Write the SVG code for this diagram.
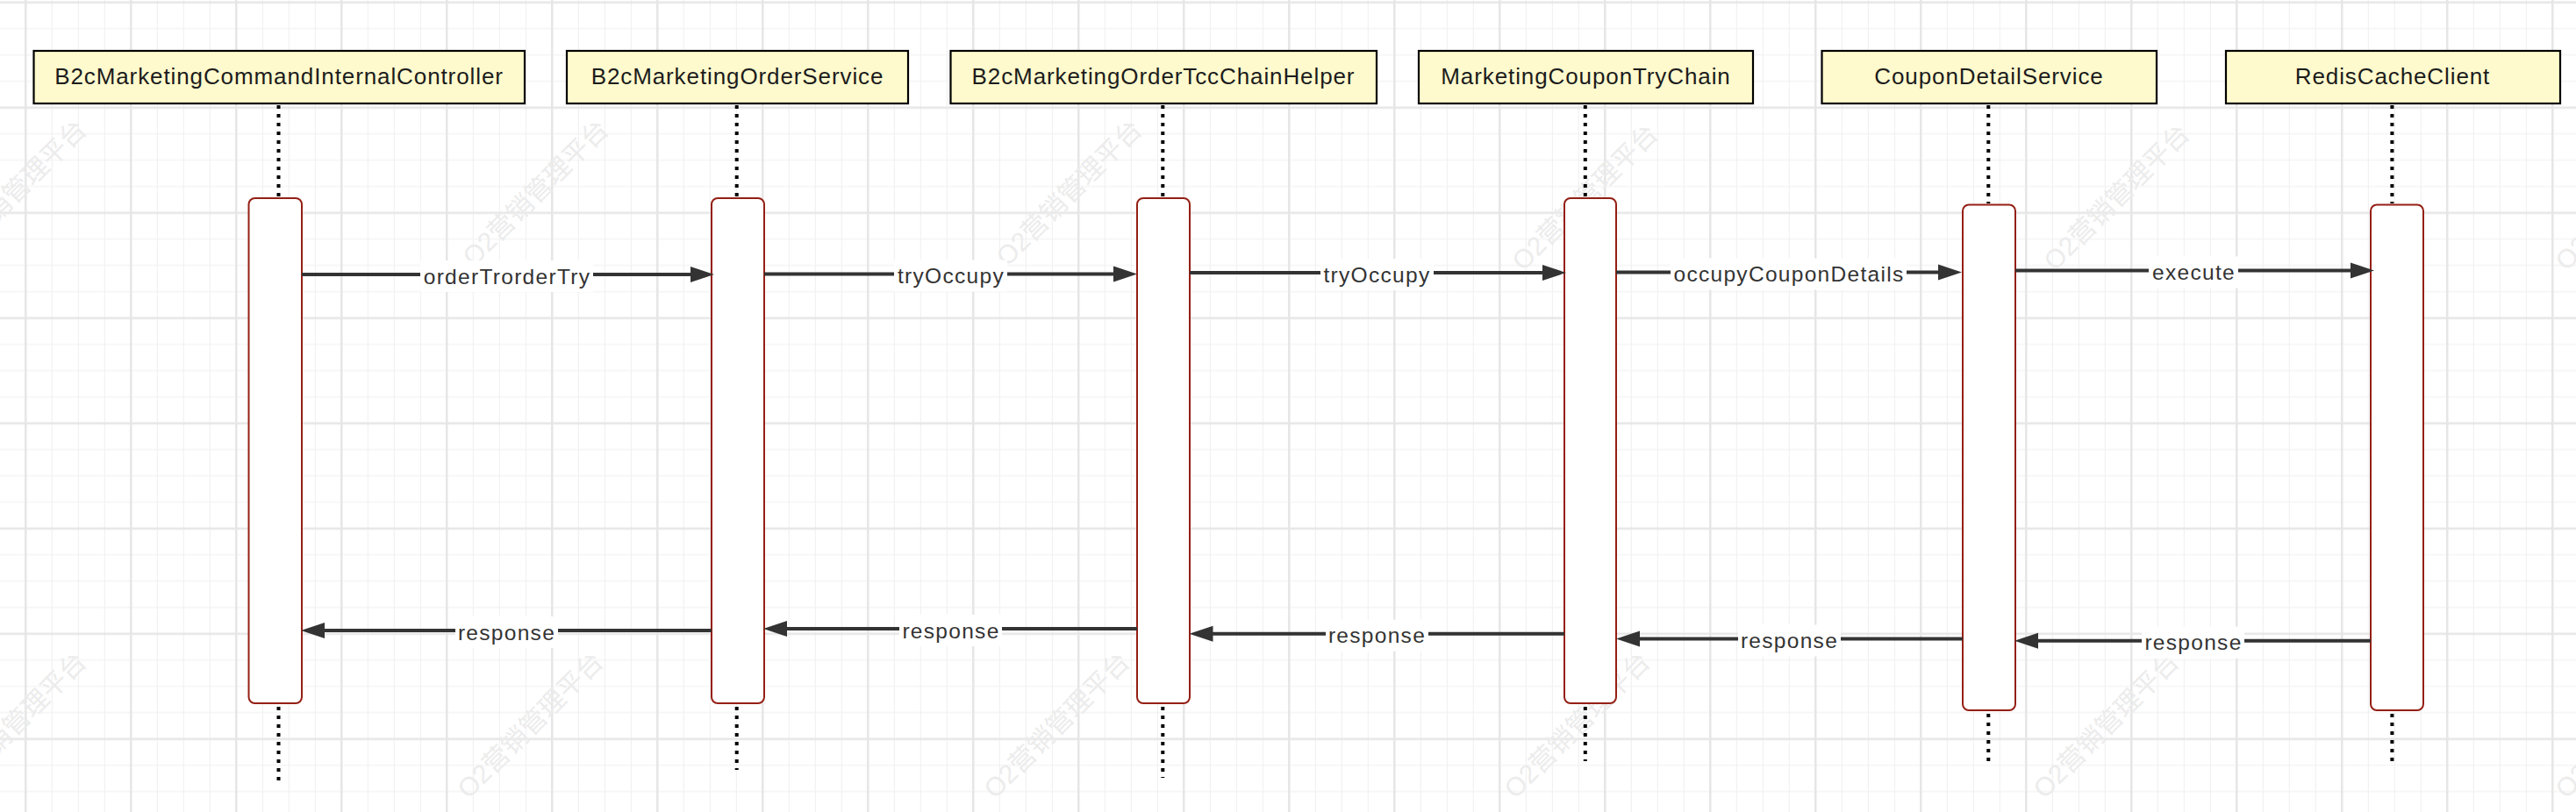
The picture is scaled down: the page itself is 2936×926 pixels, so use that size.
<svg xmlns="http://www.w3.org/2000/svg" width="2936" height="926" viewBox="0 0 2936 926">
<style>
.hdr{fill:#fffacd;stroke:#000;stroke-width:2.2}
.htxt{font-family:"Liberation Sans",Arial,sans-serif;font-size:26px;letter-spacing:0.9px;fill:#1c1c1c;text-anchor:middle}
.act{fill:#fff;stroke:#941f14;stroke-width:2}
.life{stroke:#000;stroke-width:4;stroke-dasharray:4 6;fill:none}
.msg{stroke:#333;stroke-width:4;fill:none}
.lbg{fill:#fff}
.ltxt{font-family:"Liberation Sans",Arial,sans-serif;font-size:24.5px;letter-spacing:1.3px;fill:#333;text-anchor:middle}
.wm{font-family:"Liberation Sans","Noto Sans CJK SC",sans-serif;font-size:30px;fill:#ececec}
</style>
<defs>
<pattern id="grid" patternUnits="userSpaceOnUse" x="28" y="1.5" width="120" height="120">
<rect x="30.8" y="0" width="1" height="120" fill="#efefef"/>
<rect x="60.8" y="0" width="1" height="120" fill="#efefef"/>
<rect x="90.8" y="0" width="1" height="120" fill="#efefef"/>
<rect x="0" y="30.7" width="120" height="1" fill="#efefef"/>
<rect x="0" y="60.7" width="120" height="1" fill="#efefef"/>
<rect x="0" y="90.7" width="120" height="1" fill="#efefef"/>
<rect x="0" y="0" width="2.5" height="120" fill="#e6e6e6"/>
<rect x="0" y="0" width="120" height="2.5" fill="#e6e6e6"/>
</pattern>
<marker id="ah" markerUnits="userSpaceOnUse" markerWidth="30" markerHeight="20" viewBox="0 -10 30 20" refX="1" refY="0" orient="auto">
<path d="M0,-9 L27,0 L0,9 Z" fill="#333"/>
</marker>
</defs>
<rect x="0" y="0" width="2936" height="926" fill="#fff"/>
<rect x="0" y="0" width="2936" height="926" fill="url(#grid)"/>
<g id="watermarks">
<text class="wm" transform="translate(-55,305) rotate(-45)">O2营销管理平台</text>
<text class="wm" transform="translate(540,305) rotate(-45)">O2营销管理平台</text>
<text class="wm" transform="translate(1148,305) rotate(-45)">O2营销管理平台</text>
<text class="wm" transform="translate(1736,310) rotate(-45)">O2营销管理平台</text>
<text class="wm" transform="translate(2342,310) rotate(-45)">O2营销管理平台</text>
<text class="wm" transform="translate(2925,310) rotate(-45)">O2营销管理平台</text>
<text class="wm" transform="translate(-55,912) rotate(-45)">O2营销管理平台</text>
<text class="wm" transform="translate(534,912) rotate(-45)">O2营销管理平台</text>
<text class="wm" transform="translate(1134,912) rotate(-45)">O2营销管理平台</text>
<text class="wm" transform="translate(1727,912) rotate(-45)">O2营销管理平台</text>
<text class="wm" transform="translate(2330,912) rotate(-45)">O2营销管理平台</text>
<text class="wm" transform="translate(2925,912) rotate(-45)">O2营销管理平台</text>
</g>
<g id="node-controller">
<rect class="hdr" x="38.5" y="58" width="559.5" height="60"/>
<text class="htxt" x="318" y="96">B2cMarketingCommandInternalController</text>
<line class="life" x1="317.5" y1="120" x2="317.5" y2="225"/>
<line class="life" x1="317.5" y1="806" x2="317.5" y2="892"/>
<rect class="act" x="283.5" y="226" width="60.5" height="576" rx="7"/>
</g>
<g id="node-orderservice">
<rect class="hdr" x="646" y="58" width="389" height="60"/>
<text class="htxt" x="840.5" y="96">B2cMarketingOrderService</text>
<line class="life" x1="839.7" y1="120" x2="839.7" y2="225"/>
<line class="life" x1="839.7" y1="806" x2="839.7" y2="878"/>
<rect class="act" x="811" y="226" width="60" height="576" rx="7"/>
</g>
<g id="node-tcchelper">
<rect class="hdr" x="1083.5" y="58" width="485.5" height="60"/>
<text class="htxt" x="1326" y="96">B2cMarketingOrderTccChainHelper</text>
<line class="life" x1="1325.3" y1="120" x2="1325.3" y2="225"/>
<line class="life" x1="1325.3" y1="806" x2="1325.3" y2="887"/>
<rect class="act" x="1296" y="226" width="60" height="576" rx="7"/>
</g>
<g id="node-coupontrychain">
<rect class="hdr" x="1617" y="58" width="381" height="60"/>
<text class="htxt" x="1807.5" y="96">MarketingCouponTryChain</text>
<line class="life" x1="1806.8" y1="120" x2="1806.8" y2="225"/>
<line class="life" x1="1806.8" y1="806" x2="1806.8" y2="868"/>
<rect class="act" x="1783" y="226" width="59" height="576" rx="7"/>
</g>
<g id="node-coupondetailservice">
<rect class="hdr" x="2076.5" y="58" width="381.5" height="60"/>
<text class="htxt" x="2267" y="96">CouponDetailService</text>
<line class="life" x1="2266.3" y1="120" x2="2266.3" y2="232"/>
<line class="life" x1="2266.3" y1="814" x2="2266.3" y2="868"/>
<rect class="act" x="2237" y="233.5" width="60" height="576.5" rx="7"/>
</g>
<g id="node-rediscacheclient">
<rect class="hdr" x="2537" y="58" width="381" height="60"/>
<text class="htxt" x="2727" y="96">RedisCacheClient</text>
<line class="life" x1="2726.4" y1="120" x2="2726.4" y2="232"/>
<line class="life" x1="2726.4" y1="814" x2="2726.4" y2="868"/>
<rect class="act" x="2702" y="233.5" width="60" height="576.5" rx="7"/>
</g>
<g id="connectors">
<line class="msg" x1="344" y1="313" x2="788" y2="313" marker-end="url(#ah)"/>
<rect class="lbg" x="479" y="297" width="197" height="36"/>
<text class="ltxt" x="578" y="323.5">orderTrorderTry</text>
<line class="msg" x1="871" y1="312.5" x2="1270" y2="312.5" marker-end="url(#ah)"/>
<rect class="lbg" x="1019" y="296.5" width="129" height="36"/>
<text class="ltxt" x="1084" y="323">tryOccupy</text>
<line class="msg" x1="1356" y1="311" x2="1759" y2="311" marker-end="url(#ah)"/>
<rect class="lbg" x="1505" y="295" width="129" height="36"/>
<text class="ltxt" x="1569.5" y="321.5">tryOccupy</text>
<line class="msg" x1="1842" y1="310.5" x2="2210" y2="310.5" marker-end="url(#ah)"/>
<rect class="lbg" x="1904" y="294.5" width="269" height="36"/>
<text class="ltxt" x="2039" y="321">occupyCouponDetails</text>
<line class="msg" x1="2297" y1="308.5" x2="2680" y2="308.5" marker-end="url(#ah)"/>
<rect class="lbg" x="2449" y="292.5" width="102" height="36"/>
<text class="ltxt" x="2500.5" y="319">execute</text>
<line class="msg" x1="811" y1="719" x2="369" y2="719" marker-end="url(#ah)"/>
<rect class="lbg" x="519" y="703" width="117" height="36"/>
<text class="ltxt" x="577.5" y="729.5">response</text>
<line class="msg" x1="1296" y1="717" x2="896" y2="717" marker-end="url(#ah)"/>
<rect class="lbg" x="1025" y="701" width="117" height="36"/>
<text class="ltxt" x="1084" y="727.5">response</text>
<line class="msg" x1="1783" y1="722.7" x2="1381.5" y2="722.7" marker-end="url(#ah)"/>
<rect class="lbg" x="1511" y="706.7" width="117" height="36"/>
<text class="ltxt" x="1569.5" y="733.2">response</text>
<line class="msg" x1="2237" y1="728.5" x2="1868" y2="728.5" marker-end="url(#ah)"/>
<rect class="lbg" x="1981" y="712.5" width="117" height="36"/>
<text class="ltxt" x="2039.5" y="739">response</text>
<line class="msg" x1="2702" y1="730.7" x2="2322" y2="730.7" marker-end="url(#ah)"/>
<rect class="lbg" x="2441" y="714.7" width="117" height="36"/>
<text class="ltxt" x="2500" y="741.2">response</text>
</g>
</svg>
